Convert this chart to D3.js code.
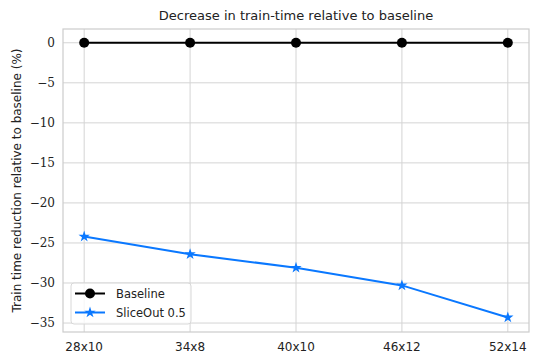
<!DOCTYPE html>
<html>
<head>
<meta charset="utf-8">
<script src="https://cdn.jsdelivr.net/npm/d3@7"></script>
<style>
  body { margin: 0; background: #fff; }
  text { fill: #222; }
  .sans { font-family: "DejaVu Sans", sans-serif; }
  .serif { font-family: "DejaVu Serif", serif; }
</style>
</head>
<body>
<div id="chart"></div>
<script>
let W = 539, H = 364
let margin = {left: 63, right: 10, top: 29, bottom: 32}

let categories = ['28x10', '34x8', '40x10', '46x12', '52x14']
let baseline = [0, 0, 0, 0, 0]
let sliceout = [-24.2, -26.4, -28.1, -30.3, -34.3]
let yTicks = [0, -5, -10, -15, -20, -25, -30, -35]

let svg = d3.select('#chart').append('svg')
  .attr('width', W)
  .attr('height', H)
  .attr('xmlns', 'http://www.w3.org/2000/svg')

let x = d3.scalePoint()
  .domain(categories)
  .range([margin.left, W - margin.right])
  .padding(0.2)

let y = d3.scaleLinear()
  .domain([-36.12, 1.72])
  .range([H - margin.bottom, margin.top])

// grid
let grid = svg.append('g')
grid.selectAll('.gx').data(categories).enter().append('line')
  .attr('x1', d => x(d)).attr('x2', d => x(d))
  .attr('y1', margin.top).attr('y2', H - margin.bottom)
  .attr('stroke', '#d4d4d4').attr('stroke-width', 1)
grid.selectAll('.gy').data(yTicks).enter().append('line')
  .attr('x1', margin.left).attr('x2', W - margin.right)
  .attr('y1', d => y(d)).attr('y2', d => y(d))
  .attr('stroke', '#d4d4d4').attr('stroke-width', 1)

// frame
svg.append('rect')
  .attr('x', margin.left).attr('y', margin.top)
  .attr('width', W - margin.left - margin.right)
  .attr('height', H - margin.top - margin.bottom)
  .attr('fill', 'none').attr('stroke', '#cccccc').attr('stroke-width', 1.2)

// tick labels
svg.append('g').selectAll('text').data(yTicks).enter().append('text')
  .attr('class', 'serif')
  .attr('x', margin.left - 8)
  .attr('y', d => y(d))
  .attr('dy', '0.35em')
  .attr('text-anchor', 'end')
  .attr('font-size', 12)
  .text(d => d < 0 ? '\u2212' + Math.abs(d) : d)

svg.append('g').selectAll('text').data(categories).enter().append('text')
  .attr('class', 'sans')
  .attr('x', d => x(d))
  .attr('y', H - margin.bottom + 19)
  .attr('text-anchor', 'middle')
  .attr('font-size', 12)
  .text(d => d)

// title + y label
svg.append('text')
  .attr('class', 'sans')
  .attr('x', (margin.left + W - margin.right) / 2)
  .attr('y', 20)
  .attr('text-anchor', 'middle')
  .attr('font-size', 13)
  .text('Decrease in train-time relative to baseline')

svg.append('text')
  .attr('class', 'sans')
  .attr('transform', 'translate(21,' + ((margin.top + H - margin.bottom) / 2) + ') rotate(-90)')
  .attr('text-anchor', 'middle')
  .attr('font-size', 12)
  .text('Train time reduction relative to baseline (%)')

// lines
let line = d3.line()
  .x((d, i) => x(categories[i]))
  .y(d => y(d))

let blue = '#0a78ff'

svg.append('path').datum(baseline)
  .attr('d', line)
  .attr('fill', 'none').attr('stroke', '#000').attr('stroke-width', 2)
svg.append('g').selectAll('circle').data(baseline).enter().append('circle')
  .attr('cx', (d, i) => x(categories[i])).attr('cy', d => y(d))
  .attr('r', 5).attr('fill', '#000')

svg.append('path').datum(sliceout)
  .attr('d', line)
  .attr('fill', 'none').attr('stroke', blue).attr('stroke-width', 2)
let star = d3.symbol().type(d3.symbolStar).size(40)
svg.append('g').selectAll('path').data(sliceout).enter().append('path')
  .attr('d', star)
  .attr('transform', (d, i) => 'translate(' + x(categories[i]) + ',' + y(d) + ')')
  .attr('fill', blue)

// legend
let lg = svg.append('g').attr('transform', 'translate(71,283)')
lg.append('rect')
  .attr('width', 120).attr('height', 41).attr('rx', 3)
  .attr('fill', '#fff').attr('fill-opacity', 0.8)
  .attr('stroke', '#d8d8d8')
let items = [
  {name: 'Baseline', color: '#000', mark: 'circle'},
  {name: 'SliceOut 0.5', color: blue, mark: 'star'}
]
items.forEach((it, i) => {
  let cy = 10.5 + i * 19
  lg.append('line')
    .attr('x1', 4).attr('x2', 34).attr('y1', cy).attr('y2', cy)
    .attr('stroke', it.color).attr('stroke-width', 2)
  if (it.mark == 'circle')
    lg.append('circle').attr('cx', 19).attr('cy', cy).attr('r', 5).attr('fill', it.color)
  else
    lg.append('path').attr('d', star).attr('transform', 'translate(19,' + cy + ')').attr('fill', it.color)
  lg.append('text')
    .attr('class', 'sans')
    .attr('x', 45).attr('y', cy).attr('dy', '0.35em')
    .attr('font-size', 11.5)
    .text(it.name)
})
</script>
</body>
</html>
